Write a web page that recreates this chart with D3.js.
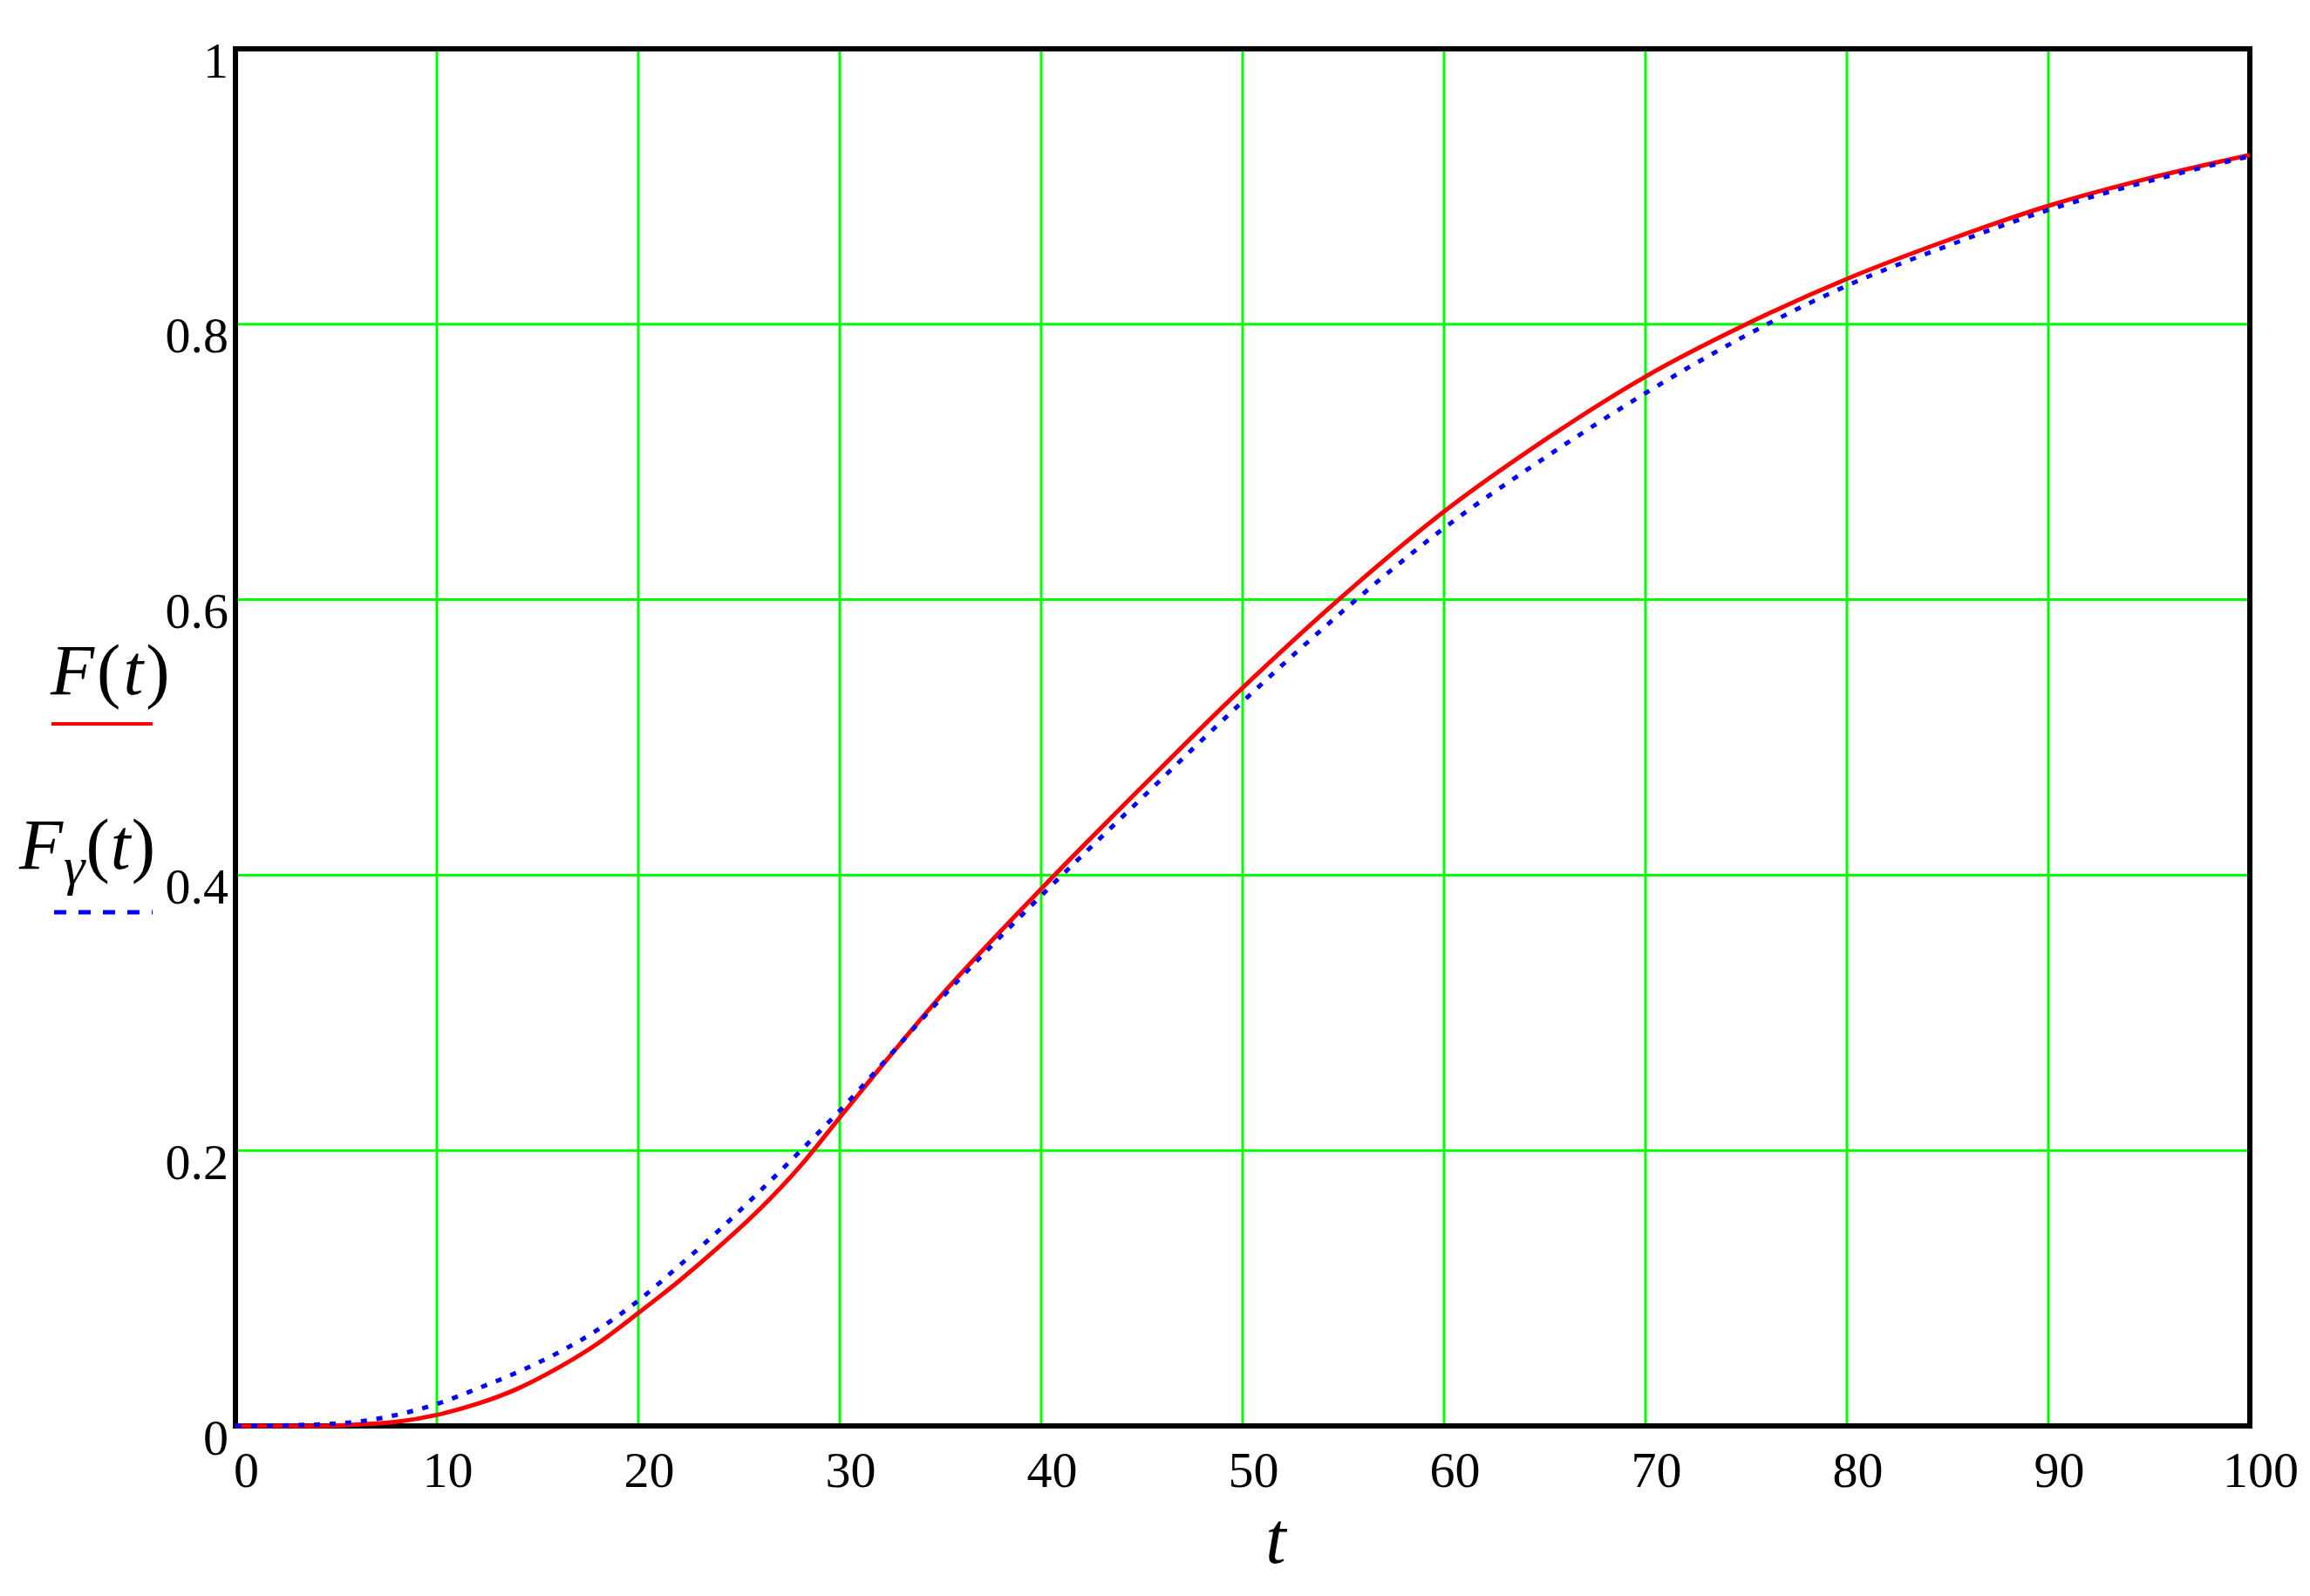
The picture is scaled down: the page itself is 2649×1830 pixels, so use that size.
<!DOCTYPE html>
<html>
<head>
<meta charset="utf-8">
<script src="https://cdn.jsdelivr.net/npm/d3@7"></script>
<style>
  body { margin: 0; background: #fff; }
  text { font-family: "Liberation Serif", "Times New Roman", serif; }
</style>
</head>
<body>
<script>
let width = 2649;
let height = 1830;

// values
const tValues = [0, 4, 6, 8, 10, 12, 14, 16, 18, 20, 22, 24, 26, 28, 30, 35, 40, 45, 50, 55, 60, 65, 70, 75, 80, 85, 90, 95, 100];
const fValues = [0, 0, 0.001, 0.003, 0.008, 0.016, 0.027, 0.042, 0.060, 0.082, 0.105, 0.130, 0.157, 0.188, 0.224, 0.312, 0.390, 0.464, 0.536, 0.603, 0.664, 0.716, 0.762, 0.800, 0.833, 0.861, 0.886, 0.906, 0.923];
const fGammaValues = [0, 0.001, 0.003, 0.008, 0.016, 0.027, 0.039, 0.053, 0.070, 0.091, 0.116, 0.142, 0.170, 0.199, 0.229, 0.310, 0.385, 0.456, 0.526, 0.592, 0.652, 0.703, 0.750, 0.792, 0.828, 0.857, 0.883, 0.904, 0.922];
const xTicks = [0, 10, 20, 30, 40, 50, 60, 70, 80, 90, 100];
const yTicks = [0, 0.2, 0.4, 0.6, 0.8, 1];

let plotLeft = 270, plotRight = 2580, plotTop = 56, plotBottom = 1635;

let svg = d3.select('body').append('svg')
	.attr('width', width)
	.attr('height', height);

let x = d3.scaleLinear().domain([0, 100]).range([plotLeft, plotRight]);
let y = d3.scaleLinear().domain([0, 1]).range([plotBottom, plotTop]);

// grid
svg.append('g')
	.selectAll('line')
	.data(xTicks.slice(1, -1))
	.join('line')
	.attr('x1', d => x(d)).attr('x2', d => x(d))
	.attr('y1', plotTop).attr('y2', plotBottom)
	.style('stroke', '#00ff00')
	.style('stroke-width', 3);

svg.append('g')
	.selectAll('line')
	.data(yTicks.slice(1, -1))
	.join('line')
	.attr('x1', plotLeft).attr('x2', plotRight)
	.attr('y1', d => y(d)).attr('y2', d => y(d))
	.style('stroke', '#00ff00')
	.style('stroke-width', 3);

// frame
svg.append('rect')
	.attr('x', plotLeft)
	.attr('y', plotTop)
	.attr('width', plotRight - plotLeft)
	.attr('height', plotBottom - plotTop)
	.style('fill', 'none')
	.style('stroke', '#000')
	.style('stroke-width', 6);

// curves (drawn over the frame, as in the original)
let line = d3.line().x((d, i) => x(tValues[i])).y(d => y(d)).curve(d3.curveMonotoneX);

svg.append('path')
	.attr('d', line(fValues))
	.style('fill', 'none')
	.style('stroke', '#ff0000')
	.style('stroke-width', 5);

svg.append('path')
	.attr('d', line(fGammaValues))
	.style('fill', 'none')
	.style('stroke', '#0000ff')
	.style('stroke-width', 5)
	.style('stroke-dasharray', '7,11');

// tick labels
let xAxis = d3.axisBottom(x).tickValues(xTicks).tickSize(0).tickPadding(0).tickFormat(d3.format('d'));
let gx = svg.append('g').attr('transform', 'translate(12,' + (plotBottom + 70) + ')').call(xAxis);
gx.select('.domain').remove();
gx.selectAll('text')
	.attr('dy', 0)
	.style('font-size', '58px')
	.style('font-family', '"Liberation Serif", serif')
	.style('fill', '#000');

let yAxis = d3.axisLeft(y).tickValues(yTicks).tickSize(0).tickPadding(0).tickFormat(d => d === 0 || d === 1 ? d : d3.format('.1f')(d));
let gy = svg.append('g').attr('transform', 'translate(' + (plotLeft - 8) + ',6)').call(yAxis);
gy.select('.domain').remove();
gy.selectAll('text')
	.attr('dy', '0.45em')
	.style('font-size', '58px')
	.style('font-family', '"Liberation Serif", serif')
	.style('fill', '#000');

// axis label
svg.append('text')
	.attr('x', 1463)
	.attr('y', 1792)
	.attr('text-anchor', 'middle')
	.style('font-size', '84px')
	.style('font-style', 'italic')
	.text('t');

// legend
let l1 = svg.append('text').attr('x', 58).attr('y', 796)
	.style('font-size', '82px').style('letter-spacing', '3px');
l1.append('tspan').style('font-style', 'italic').text('F');
l1.append('tspan').text('(');
l1.append('tspan').style('font-style', 'italic').text('t');
l1.append('tspan').text(')');

svg.append('line')
	.attr('x1', 59).attr('x2', 175)
	.attr('y1', 830).attr('y2', 830)
	.style('stroke', '#ff0000')
	.style('stroke-width', 4);

let l2 = svg.append('text').attr('x', 22).attr('y', 996)
	.style('font-size', '82px').style('letter-spacing', '1px');
l2.append('tspan').style('font-style', 'italic').text('F');
l2.append('tspan').style('font-style', 'italic').style('font-size', '62px').attr('dy', 18).text('γ');
l2.append('tspan').attr('dy', -18).text('(');
l2.append('tspan').style('font-style', 'italic').text('t');
l2.append('tspan').text(')');

svg.append('line')
	.attr('x1', 62).attr('x2', 175)
	.attr('y1', 1046).attr('y2', 1046)
	.style('stroke', '#0000ff')
	.style('stroke-width', 5)
	.style('stroke-dasharray', '14,14');
</script>
</body>
</html>
